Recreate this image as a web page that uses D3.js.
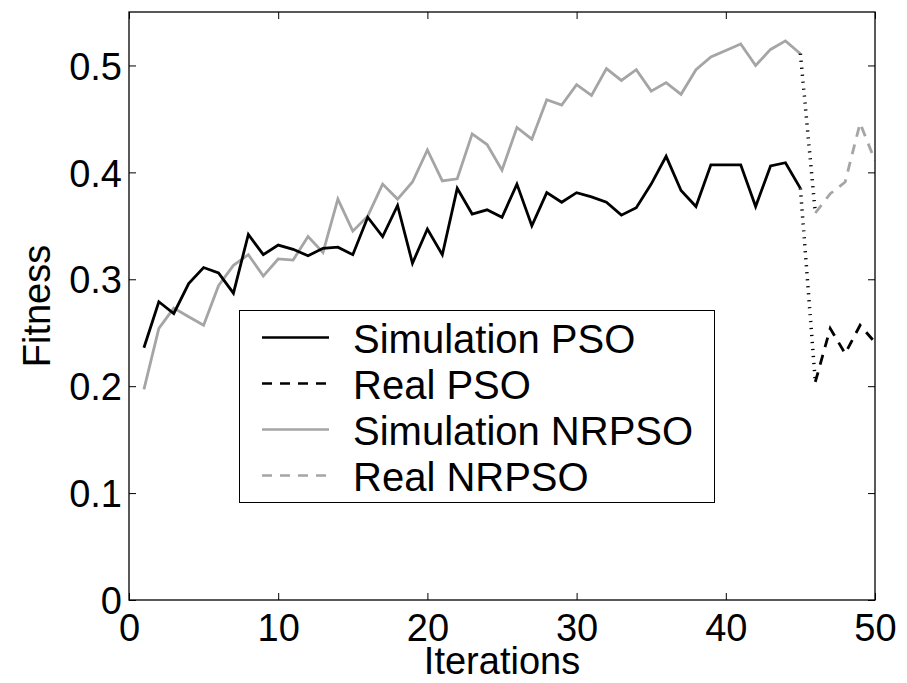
<!DOCTYPE html>
<html>
<head>
<meta charset="utf-8">
<script src="https://cdn.jsdelivr.net/npm/d3@7"></script>
<style>
  html, body { margin: 0; padding: 0; background: #fff; }
  svg { display: block; }
  text { font-family: "Liberation Sans", Arial, Helvetica, sans-serif; }
</style>
</head>
<body>
<div id="chart"></div>
<script>
// ---- Data ----
const simIterations = [1,2,3,4,5,6,7,8,9,10,11,12,13,14,15,16,17,18,19,20,21,22,23,24,25,26,27,28,29,30,31,32,33,34,35,36,37,38,39,40,41,42,43,44,45];
const simPSO = [0.236,0.279,0.268,0.296,0.311,0.306,0.287,0.342,0.323,0.332,0.328,0.322,0.329,0.330,0.323,0.358,0.340,0.369,0.315,0.347,0.323,0.385,0.361,0.365,0.358,0.389,0.350,0.381,0.372,0.381,0.377,0.372,0.360,0.367,0.389,0.415,0.383,0.368,0.407,0.407,0.407,0.368,0.406,0.409,0.385];
const simNRPSO = [0.197,0.254,0.273,0.265,0.257,0.294,0.313,0.323,0.303,0.319,0.318,0.340,0.325,0.375,0.345,0.359,0.389,0.375,0.391,0.421,0.392,0.394,0.436,0.426,0.402,0.442,0.431,0.468,0.463,0.482,0.472,0.497,0.486,0.496,0.476,0.484,0.473,0.496,0.508,0.514,0.520,0.500,0.515,0.523,0.511];
const realIterations = [46,47,48,49,50];
const realPSO = [0.204,0.254,0.2305,0.257,0.241];
const realNRPSO = [0.362,0.380,0.391,0.446,0.411];
const xTicks = [0,10,20,30,40,50];
const yTicks = [0,0.1,0.2,0.3,0.4,0.5];
const yTickLabels = ["0","0.1","0.2","0.3","0.4","0.5"];
const legendLabels = ["Simulation PSO","Real PSO","Simulation NRPSO","Real NRPSO"];

// ---- Layout ----
const W = 907, H = 683;
const pL = 129, pR = 875, pT = 12, pB = 600;
const GRAY = "#a5a5a5";
const FS = 38;
const LFS = 40;

const svg = d3.select("#chart").append("svg").attr("width", W).attr("height", H);

const x = d3.scaleLinear().domain([0, 50]).range([pL, pR]);
const y = d3.scaleLinear().domain([0, 0.55]).range([pB, pT]);

// ---- Axes ----
const tickLen = 7;
const gB = svg.append("g").attr("transform", `translate(0,${pB})`)
  .call(d3.axisBottom(x).tickValues(xTicks).tickSize(-tickLen).tickPadding(14).tickFormat(d3.format("d")));
const gT = svg.append("g").attr("transform", `translate(0,${pT})`)
  .call(d3.axisTop(x).tickValues(xTicks).tickSize(-tickLen).tickFormat(""));
const gL = svg.append("g").attr("transform", `translate(${pL},0)`)
  .call(d3.axisLeft(y).tickValues(yTicks).tickSize(-tickLen).tickPadding(7).tickFormat((d, i) => yTickLabels[i]));
const gR = svg.append("g").attr("transform", `translate(${pR},0)`)
  .call(d3.axisRight(y).tickValues(yTicks).tickSize(-tickLen).tickFormat(""));

[gB, gT, gL, gR].forEach(g => {
  g.select(".domain").remove();
  g.selectAll(".tick line").attr("stroke", "#000").attr("stroke-width", 1);
  g.selectAll(".tick text").attr("fill", "#000").style("font-size", FS + "px")
    .style("font-family", '"Liberation Sans", Arial, Helvetica, sans-serif');
});
gL.selectAll(".tick text").attr("dy", "0.36em");

// ---- Lines ----
const line = d3.line().x(d => x(d[0])).y(d => y(d[1]));
const plot = svg.append("g");

function draw(xs, ys, color, dash, width) {
  plot.append("path")
    .datum(xs.map((v, i) => [v, ys[i]]))
    .attr("d", line)
    .attr("fill", "none")
    .attr("stroke", color)
    .attr("stroke-width", width)
    .attr("stroke-linejoin", "miter")
    .attr("stroke-dasharray", dash);
}

draw(simIterations, simNRPSO, GRAY, null, 2.8);
draw(simIterations, simPSO, "#000", null, 2.8);
// dotted connectors from end of simulation to start of real
const lastSim = simIterations[simIterations.length - 1];
draw([lastSim, realIterations[0]], [simNRPSO[simNRPSO.length - 1], realNRPSO[0]], "#000", "1.2,5.8", 3.5);
draw([lastSim, realIterations[0]], [simPSO[simPSO.length - 1], realPSO[0]], "#000", "1.2,5.8", 3.5);
draw(realIterations, realNRPSO, GRAY, "10,8", 2.8);
draw(realIterations, realPSO, "#000", "10,8", 2.8);

// ---- Box ----
svg.append("rect")
  .attr("x", pL).attr("y", pT)
  .attr("width", pR - pL).attr("height", pB - pT)
  .attr("fill", "none").attr("stroke", "#000").attr("stroke-width", 1.3);

// ---- Axis labels ----
svg.append("text")
  .attr("x", (pL + pR) / 2).attr("y", 674)
  .attr("text-anchor", "middle").style("font-size", FS + "px")
  .text("Iterations");
svg.append("text")
  .attr("transform", `translate(50,${(pT + pB) / 2}) rotate(-90)`)
  .attr("text-anchor", "middle").style("font-size", FS + "px")
  .text("Fitness");

// ---- Legend ----
const lg = svg.append("g");
lg.append("rect")
  .attr("x", 239.5).attr("y", 310.5).attr("width", 475).attr("height", 192)
  .attr("fill", "#fff").attr("stroke", "#000").attr("stroke-width", 1);
const legendStyles = [
  { color: "#000", dash: null },
  { color: "#000", dash: "10,8" },
  { color: GRAY, dash: null },
  { color: GRAY, dash: "10,8" }
];
legendLabels.forEach((lab, i) => {
  const ly = 337.5 + i * 46;
  lg.append("line")
    .attr("x1", 262).attr("x2", 329).attr("y1", ly).attr("y2", ly)
    .attr("stroke", legendStyles[i].color).attr("stroke-width", 2.7)
    .attr("stroke-dasharray", legendStyles[i].dash);
  lg.append("text")
    .attr("x", 353).attr("y", ly + 15.5)
    .style("font-size", LFS + "px")
    .text(lab);
});
</script>
</body>
</html>
